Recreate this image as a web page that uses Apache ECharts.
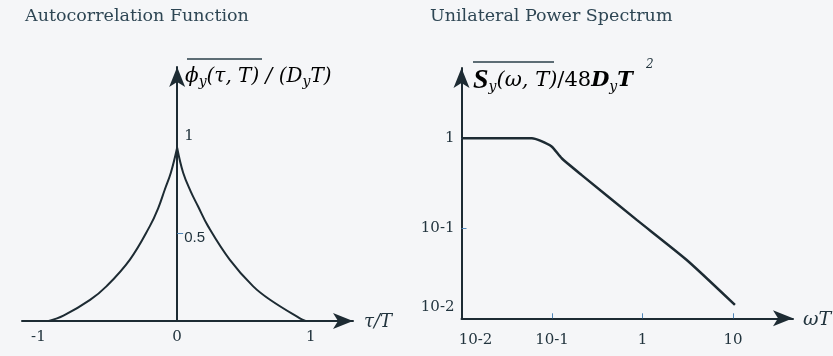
<!DOCTYPE html>
<html><head><meta charset="utf-8">
<script src="https://cdn.jsdelivr.net/npm/echarts@6/dist/echarts.min.js"></script>
<style>html,body{margin:0;padding:0;background:#f5f6f8}#c{width:833px;height:356px}</style>
</head><body><div id="c"></div>
<script>
// Autocorrelation function (left panel)
const tauLeft  = [-0.96, -0.85, -0.651, -0.527, -0.353, -0.204, -0.142, -0.092, -0.047, 0];
const phiLeft  = [0, 0.03, 0.12, 0.198, 0.349, 0.539, 0.64, 0.747, 0.842, 0.984];
const tauRight = [0, 0.045, 0.102, 0.156, 0.231, 0.393, 0.567, 0.692, 0.918, 0.96];
const phiRight = [0.984, 0.842, 0.735, 0.652, 0.539, 0.349, 0.198, 0.122, 0.015, 0];
const acfXTicks = [-1, 0, 1];
const acfYTicks = [0.5, 1];

// Unilateral power spectrum (right panel)
const omega    = [0.01, 0.03, 0.06, 0.074, 0.099, 0.128, 0.213, 0.863, 3.08, 10.5];
const spectrum = [1, 1, 1, 0.94, 0.81, 0.60, 0.39, 0.124, 0.0445, 0.0141];
const psdXTicks = [0.01, 0.1, 1, 10];
const psdXTickLabels = ['10-2', '10-1', '1', '10'];
const psdYTicks = [0.01, 0.1, 1];
const psdYTickLabels = ['10-2', '10-1', '1'];

const serif = "'DejaVu Serif', 'Liberation Serif', serif";
const lineColor = '#1d2b33';
const textColor = '#22343e';
const titleColor = '#2e4654';
const tickColor = '#4f86b8';

function logLabel(values, labels) {
  return function (v) {
    const e = Math.round(Math.log10(v));
    for (let i = 0; i < values.length; i++) {
      if (Math.round(Math.log10(values[i])) === e) return labels[i];
    }
    return '';
  };
}
const psdX = logLabel(psdXTicks, psdXTickLabels);
const psdY = logLabel(psdYTicks, psdYTickLabels);

const chart = echarts.init(document.getElementById('c'), null, {renderer: 'canvas'});
chart.setOption({
  backgroundColor: '#f5f6f8',
  animation: false,
  title: [
    {text: 'Autocorrelation Function', left: 25, top: 7, padding: 0,
     textStyle: {fontFamily: serif, fontSize: 17.5, fontWeight: 'normal', color: titleColor}},
    {text: 'Unilateral Power Spectrum', left: 430, top: 7, padding: 0,
     textStyle: {fontFamily: serif, fontSize: 17.5, fontWeight: 'normal', color: titleColor}}
  ],
  grid: [
    {left: 22, top: 67, width: 331, height: 254, outerBoundsMode: 'none'},
    {left: 461.5, top: 68, width: 331.5, height: 250.3, outerBoundsMode: 'none'}
  ],
  xAxis: [
    {type: 'value', gridIndex: 0, min: -1.16, max: 1.315,
     splitLine: {show: false},
     axisLine: {onZero: false, symbol: ['none', 'arrow'], symbolSize: [12, 20],
                lineStyle: {color: lineColor, width: 2}},
     axisTick: {show: false},
     axisLabel: {customValues: acfXTicks, margin: 9, fontFamily: serif, fontSize: 15, color: textColor,
                 formatter: function (v) { return v === -1 ? '{neg|-1}' : String(v); },
                 rich: {neg: {fontFamily: serif, fontSize: 15, color: textColor, padding: [0, 10, 0, 0]}}}},
    {type: 'log', gridIndex: 1, min: 0.01, max: 46, logBase: 10,
     splitLine: {show: false},
     axisLine: {symbol: ['none', 'arrow'], symbolSize: [12, 20],
                lineStyle: {color: lineColor, width: 2}},
     axisTick: {customValues: [0.1, 1, 10], inside: true, length: 5, lineStyle: {color: tickColor, width: 1}},
     minorTick: {show: false},
     axisLabel: {customValues: psdXTicks, margin: 14, fontFamily: serif, fontSize: 15, color: textColor,
                 formatter: function (v) {
                   const t = psdX(v);
                   return Math.round(Math.log10(v)) === -2 ? '{first|' + t + '}' : t;
                 },
                 rich: {first: {fontFamily: serif, fontSize: 15, color: textColor, padding: [0, 0, 0, 28]}}}}
  ],
  yAxis: [
    {type: 'value', gridIndex: 0, min: 0, max: 1.443, offset: -155.15,
     splitLine: {show: false},
     axisLine: {onZero: false, symbol: ['none', 'arrow'], symbolSize: [12, 20],
                lineStyle: {color: lineColor, width: 2}},
     axisTick: {customValues: [0.5], inside: true, length: 6, lineStyle: {color: tickColor, width: 1}},
     axisLabel: {customValues: acfYTicks, inside: true, margin: 7,
                 formatter: function (v) { return v === 1 ? '{one|1}' : '{half|0.5}'; },
                 rich: {
                   one: {fontFamily: serif, fontSize: 15, color: textColor, padding: [0, 0, 18, 0]},
                   half: {fontFamily: "'Liberation Sans', Arial, sans-serif", fontSize: 15, color: textColor, padding: [10, 0, 0, 0]}
                 }}},
    {type: 'log', gridIndex: 1, min: 0.01, max: 6.04, logBase: 10,
     splitLine: {show: false},
     axisLine: {symbol: ['none', 'arrow'], symbolSize: [12, 20],
                lineStyle: {color: lineColor, width: 2}},
     axisTick: {customValues: [0.1, 1], inside: true, length: 5, lineStyle: {color: tickColor, width: 1}},
     minorTick: {show: false},
     axisLabel: {customValues: psdYTicks, margin: 7, fontFamily: serif, fontSize: 15, color: textColor,
                 formatter: function (v) {
                   const t = psdY(v);
                   return Math.round(Math.log10(v)) === -2 ? '{low|' + t + '}' : t;
                 },
                 rich: {low: {fontFamily: serif, fontSize: 15, color: textColor, padding: [0, 0, 22, 0]}}}}
  ],
  series: [
    {type: 'line', xAxisIndex: 0, yAxisIndex: 0, showSymbol: false, smooth: 0.4,
     lineStyle: {color: lineColor, width: 2}, data: tauLeft.map((t, i) => [t, phiLeft[i]])},
    {type: 'line', xAxisIndex: 0, yAxisIndex: 0, showSymbol: false, smooth: 0.4,
     lineStyle: {color: lineColor, width: 2}, data: tauRight.map((t, i) => [t, phiRight[i]])},
    {type: 'line', xAxisIndex: 1, yAxisIndex: 1, showSymbol: false, smooth: 0.2,
     lineStyle: {color: lineColor, width: 2.5}, data: omega.map((w, i) => [w, spectrum[i]])}
  ],
  graphic: [
    {type: 'text', x: 185, y: 77, style: {
      text: '{i|ϕ}{s|y}{i|(τ, T) / (D}{s|y}{i|T)}',
      verticalAlign: 'middle',
      rich: {
        i: {fontFamily: serif, fontStyle: 'italic', fontSize: 20, color: textColor},
        s: {fontFamily: serif, fontStyle: 'italic', fontSize: 14, color: textColor, padding: [10, 0, 0, 0]}
      }}},
    {type: 'line', shape: {x1: 187, y1: 59, x2: 262, y2: 59}, style: {stroke: '#2a3f4a', lineWidth: 1.5}},
    {type: 'text', x: 473, y: 81, style: {
      text: '{S|S}{s|y}{i|(ω, T)}{n|/48}{b|D}{s|y}{b|T}',
      verticalAlign: 'middle',
      rich: {
        S: {fontFamily: "'Liberation Serif', serif", fontStyle: 'italic', fontWeight: 'bold', fontSize: 28, color: '#111a1f'},
        s: {fontFamily: serif, fontStyle: 'italic', fontSize: 14, color: textColor, padding: [13, 0, 0, 0]},
        i: {fontFamily: serif, fontStyle: 'italic', fontSize: 21, color: textColor},
        n: {fontFamily: serif, fontSize: 21, color: textColor},
        b: {fontFamily: serif, fontStyle: 'italic', fontWeight: 'bold', fontSize: 21, color: textColor}
      }}},
    {type: 'text', x: 646, y: 65, style: {text: '2', verticalAlign: 'middle',
      fontFamily: serif, fontStyle: 'italic', fontSize: 12, fill: textColor}},
    {type: 'line', shape: {x1: 473, y1: 62, x2: 554, y2: 62}, style: {stroke: '#2a3f4a', lineWidth: 1.5}},
    {type: 'text', x: 364, y: 322, style: {text: 'τ/T', verticalAlign: 'middle',
      fontFamily: serif, fontStyle: 'italic', fontSize: 18, fill: textColor}},
    {type: 'text', x: 803, y: 320, style: {text: 'ωT', verticalAlign: 'middle',
      fontFamily: serif, fontStyle: 'italic', fontSize: 19, fill: textColor}}
  ]
});
</script>
</body></html>
